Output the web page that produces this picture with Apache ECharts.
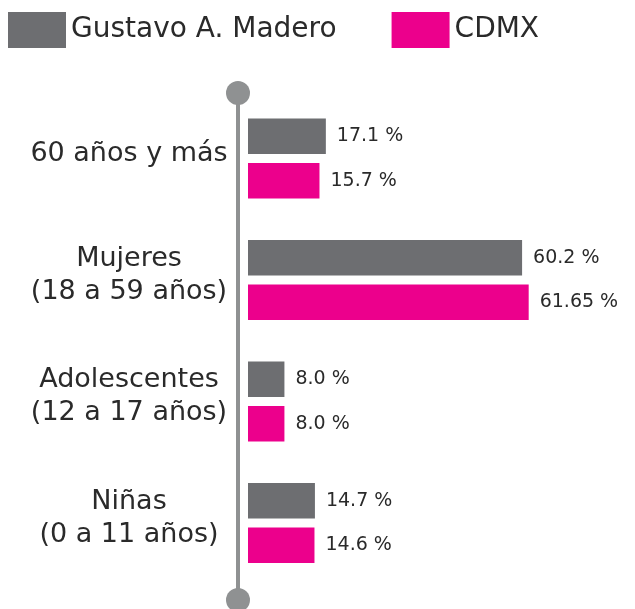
<!DOCTYPE html>
<html>
<head>
<meta charset="utf-8">
<script src="https://cdn.jsdelivr.net/npm/echarts@6/dist/echarts.min.js"></script>
<style>
  html, body { margin: 0; padding: 0; background: #fff; }
  #chart { width: 635px; height: 609px; }
</style>
</head>
<body>
<div id="chart"></div>
<script>
// --- Data ---
const categories = ['60 años y más', 'Mujeres\n(18 a 59 años)', 'Adolescentes\n(12 a 17 años)', 'Niñas\n(0 a 11 años)'];
const gamValues  = [17.1, 60.2, 8.0, 14.7];
const cdmxValues = [15.7, 61.65, 8.0, 14.6];
const seriesNames = ['Gustavo A. Madero', 'CDMX'];

const FONT = '"DejaVu Sans", sans-serif';
const GREY = '#6d6e71';
const PINK = '#ec008c';
const AXIS = '#8f9192';
const TEXT = '#2a2a2a';

function pct(p) {
  const v = p.value;
  return (Number.isInteger(v) ? v.toFixed(1) : String(v)) + ' %';
}

const valueLabel = {
  show: true, position: 'right', distance: 11,
  fontFamily: FONT, fontSize: 19, color: TEXT, formatter: pct
};

const chart = echarts.init(document.getElementById('chart'));
chart.setOption({
  animation: false,
  legend: {
    left: 8, top: 12, padding: 0, itemWidth: 58, itemHeight: 36, itemGap: 55,
    icon: 'rect',
    textStyle: { fontFamily: FONT, fontSize: 28, color: TEXT },
    data: seriesNames
  },
  grid: [
    { left: 248, top: 97.75, width: 387, height: 486 },
    // only used for the vertical rule with round ends
    { left: 238, top: 93, width: 1, height: 507 }
  ],
  xAxis: [
    { gridIndex: 0, type: 'value', min: 0, max: 85, show: false },
    { gridIndex: 1, type: 'value', show: false }
  ],
  yAxis: [
    {
      gridIndex: 0, type: 'category', inverse: true, data: categories,
      axisLine: { show: false }, axisTick: { show: false },
      axisLabel: {
        align: 'center', margin: 119, lineHeight: 33,
        fontFamily: FONT, fontSize: 27, color: TEXT,
        // small blank line underneath lifts the label a few pixels
        formatter: v => v + '\n{s| }',
        rich: { s: { fontSize: 1, lineHeight: 10 } }
      }
    },
    {
      gridIndex: 1, type: 'value',
      axisLine: {
        show: true, symbol: ['circle', 'circle'], symbolSize: [24, 24],
        lineStyle: { color: AXIS, width: 4 }
      },
      axisTick: { show: false }, axisLabel: { show: false }, splitLine: { show: false }
    }
  ],
  series: [
    {
      name: seriesNames[0], type: 'bar', data: gamValues,
      barWidth: 35.5, barGap: '25%',
      itemStyle: { color: GREY }, label: valueLabel
    },
    {
      name: seriesNames[1], type: 'bar', data: cdmxValues,
      barWidth: 35.5, barGap: '25%',
      itemStyle: { color: PINK }, label: valueLabel
    }
  ]
});
</script>
</body>
</html>
